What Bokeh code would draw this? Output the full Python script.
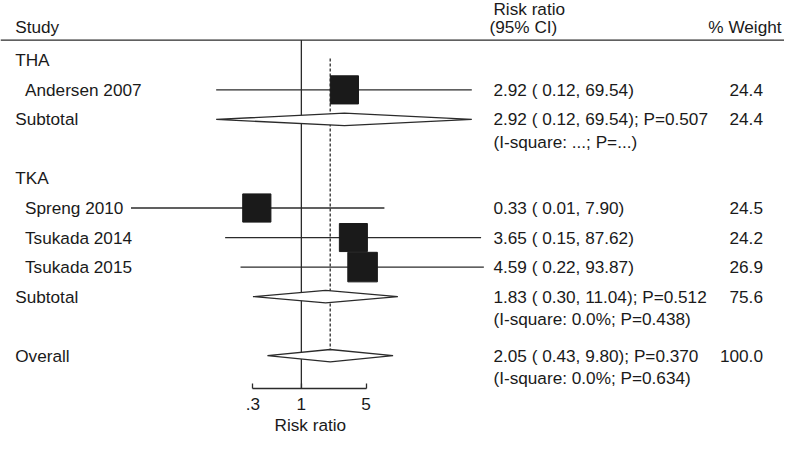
import math
from bokeh.plotting import figure
from bokeh.models import Range1d, FixedTicker, Span, Title
from bokeh.core.properties import value
from bokeh.embed import file_html
from bokeh.resources import INLINE

# ---------------- data ----------------
studies = ["Andersen 2007", "Spreng 2010", "Tsukada 2014", "Tsukada 2015"]
study_group = ["THA", "TKA", "TKA", "TKA"]
rr = [2.92, 0.33, 3.65, 4.59]
ci_low = [0.12, 0.01, 0.15, 0.22]
ci_high = [69.54, 7.90, 87.62, 93.87]
weight = [24.4, 24.5, 24.2, 26.9]

groups = ["THA", "TKA"]
sub_rr = [2.92, 1.83]
sub_low = [0.12, 0.30]
sub_high = [69.54, 11.04]
sub_p = ["0.507", "0.512"]
sub_weight = [24.4, 75.6]
sub_het = ["(I-square: ...; P=...)", "(I-square: 0.0%; P=0.438)"]

overall_rr = 2.05
overall_low = 0.43
overall_high = 9.80
overall_p = "0.370"
overall_weight = 100.0
overall_het = "(I-square: 0.0%; P=0.634)"

tick_values = [0.3, 1, 5]
tick_labels = [".3", "1", "5"]
axis_title = "Risk ratio"
ci_clip_low = 0.0144

# ---------------- layout helpers ----------------
PX_PER_LN = 41.0
X_ONE = 307.0


def xr(px):
    return math.exp((px - X_ONE) / PX_PER_LN)


ROW_PX = 30.6


def yr(py):
    return 1 + (py - 62) / ROW_PX


AXIS_REF = 402

FONT = value("Liberation Sans")
FS = value("17.2px")
TXT = "#1a1a1a"
LINE = "#2b2b2b"

p = figure(width=784, height=434, x_axis_type="log",
           x_range=Range1d(xr(0), xr(800)), y_range=Range1d(yr(AXIS_REF), yr(0)),
           output_backend="svg", toolbar_location=None,
           min_border_left=0, min_border_right=0, min_border_top=0,
           min_border_bottom=0)
p.outline_line_color = None
p.xgrid.visible = False
p.ygrid.visible = False
p.yaxis.visible = False

ax = p.xaxis[0]
ax.ticker = FixedTicker(ticks=tick_values)
ax.major_label_overrides = {t: l for t, l in zip(tick_values, tick_labels)}
ax.bounds = (tick_values[0], tick_values[-1])
ax.minor_tick_line_color = None
ax.major_tick_in = 5
ax.major_tick_out = 0
ax.axis_line_color = LINE
ax.major_tick_line_color = LINE
ax.axis_line_width = 1.3
ax.major_tick_line_width = 1.3
ax.major_label_standoff = 9
ax.major_label_text_font = "Liberation Sans"
ax.major_label_text_font_size = "17.2px"
ax.major_label_text_color = TXT

p.add_layout(Title(text=axis_title, align="left", offset=274, standoff=0,
                   text_font="Liberation Sans", text_font_size="17.2px",
                   text_font_style="normal", text_color=TXT), "below")

# ---------------- build rows ----------------
left_txt, left_x, left_y = [], [], []
ci_txt, ci_y = [], []
w_txt, w_y = [], []

row = 1
study_rows = []
sub_rows = []
for gi, g in enumerate(groups):
    left_txt.append(g); left_x.append(xr(15)); left_y.append(row)
    row += 1
    for si, s in enumerate(studies):
        if study_group[si] != g:
            continue
        study_rows.append(row)
        left_txt.append(s); left_x.append(xr(25)); left_y.append(row)
        ci_txt.append(f"{rr[si]:.2f} ( {ci_low[si]:.2f}, {ci_high[si]:.2f})"); ci_y.append(row)
        w_txt.append(f"{weight[si]:.1f}"); w_y.append(row)
        row += 1
    sub_rows.append(row)
    left_txt.append("Subtotal"); left_x.append(xr(15)); left_y.append(row)
    ci_txt.append(f"{sub_rr[gi]:.2f} ( {sub_low[gi]:.2f}, {sub_high[gi]:.2f}); P={sub_p[gi]}"); ci_y.append(row)
    ci_txt.append(sub_het[gi]); ci_y.append(row + 0.76)
    w_txt.append(f"{sub_weight[gi]:.1f}"); w_y.append(row)
    row += 2
overall_row = row
left_txt.append("Overall"); left_x.append(xr(15)); left_y.append(overall_row)
ci_txt.append(f"{overall_rr:.2f} ( {overall_low:.2f}, {overall_high:.2f}); P={overall_p}"); ci_y.append(overall_row)
ci_txt.append(overall_het); ci_y.append(overall_row + 0.76)
w_txt.append(f"{overall_weight:.1f}"); w_y.append(overall_row)

# ---------------- lines ----------------
p.add_layout(Span(location=yr(41), dimension="width", line_color=LINE, line_width=1.3))
p.segment(x0=[1], x1=[1], y0=[yr(41)], y1=[yr(AXIS_REF)], line_color=LINE, line_width=1.3)
DH = 0.21
p.segment(x0=[overall_rr], x1=[overall_rr], y0=[yr(60)], y1=[overall_row - DH],
          line_color=LINE, line_width=1.3, line_dash="3 2")

# CI lines
lo_clipped = [max(v, ci_clip_low) for v in ci_low]
p.segment(x0=lo_clipped, x1=ci_high, y0=study_rows, y1=study_rows,
          line_color=LINE, line_width=1.3)

# squares (area proportional to weight)
sizes = [5.7 * math.sqrt(w) for w in weight]
p.scatter(x=rr, y=study_rows, size=sizes, marker="square",
          fill_color="#1a1a1a", line_color="#1a1a1a")

# diamonds
d_low = sub_low + [overall_low]
d_rr = sub_rr + [overall_rr]
d_high = sub_high + [overall_high]
d_rows = sub_rows + [overall_row]
xs = [[l, c, h, c] for l, c, h in zip(d_low, d_rr, d_high)]
ys = [[r, r - DH, r, r + DH] for r in d_rows]
p.patches(xs=xs, ys=ys, fill_color="white", line_color=LINE, line_width=1.3)

# ---------------- texts ----------------
p.text(x=left_x, y=left_y, text=left_txt, text_font=FONT, text_font_size=FS,
       text_baseline="middle", text_align="left", text_color=TXT)
p.text(x=[xr(503)] * len(ci_txt), y=ci_y, text=ci_txt, text_font=FONT, text_font_size=FS,
       text_baseline="middle", text_align="left", text_color=TXT)
p.text(x=[xr(778)] * len(w_txt), y=w_y, text=w_txt, text_font=FONT, text_font_size=FS,
       text_baseline="middle", text_align="right", text_color=TXT)

# headers
p.text(x=[xr(15)], y=[yr(27)], text=["Study"], text_font=FONT, text_font_size=FS,
       text_baseline="middle", text_align="left", text_color=TXT)
p.text(x=[xr(503), xr(499)], y=[yr(9), yr(27)], text=["Risk ratio", "(95% CI)"],
       text_font=FONT, text_font_size=FS, text_baseline="middle", text_align="left",
       text_color=TXT)
p.text(x=[xr(797)], y=[yr(27)], text=["% Weight"], text_font=FONT, text_font_size=FS,
       text_baseline="middle", text_align="right", text_color=TXT)

open("out.html", "w").write(file_html(p, INLINE))
